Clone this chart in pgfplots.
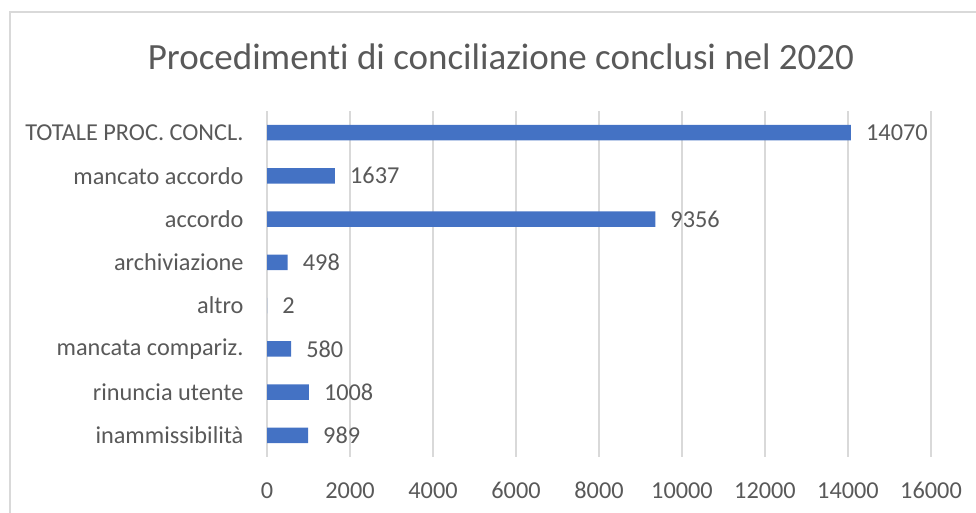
\documentclass[border=0pt]{standalone}
\usepackage{fontspec}
\setmainfont{Carlito}[Ligatures={NoCommon}]
\usepackage{pgfplots}
\pgfplotsset{compat=1.18}

\definecolor{barblue}{HTML}{4472C4}
\definecolor{txtgray}{HTML}{595959}
\definecolor{gridgray}{HTML}{D9D9D9}

\begin{document}
\begin{tikzpicture}
\path[use as bounding box] (0pt,0pt) rectangle (976pt,513pt);
% chart frame (cropped on right and bottom)
\draw[gridgray, line width=1.2pt] (10pt,0pt) -- (10pt,501pt) -- (976pt,501pt);
\node[text=txtgray, font=\fontsize{37}{44}\selectfont, anchor=base, inner sep=0pt] at (501pt,443pt) {Procedimenti di conciliazione conclusi nel 2020};
\begin{axis}[
    at={(267pt,56pt)}, anchor=south west,
    scale only axis,
    width=664pt, height=346pt,
    xbar,
    bar width=15.5pt,
    xmin=0, xmax=16000,
    ymin=-0.5, ymax=7.5,
    xtick={0,2000,...,16000},
    scaled x ticks=false,
    ytick={0,...,7},
    yticklabels={inammissibilità, rinuncia utente, mancata compariz., altro, archiviazione, accordo, mancato accordo, TOTALE PROC. CONCL.},
    /pgf/number format/assume math mode=true,
    /pgf/number format/1000 sep={},
    axis line style={draw=none},
    major tick length=0pt,
    xmajorgrids,
    grid style={gridgray, line width=1.2pt},
    ticklabel style={text=txtgray, font=\fontsize{24.3}{28}\selectfont},
    xticklabel style={anchor=north, inner sep=0pt, text height=17pt, text depth=0pt, yshift=-24pt},
    yticklabel style={xshift=-20pt},
    nodes near coords,
    nodes near coords style={text=txtgray, font=\fontsize{24.3}{28}\selectfont, anchor=west, inner sep=0pt, xshift=15pt},
    point meta=explicit symbolic,
]
\addplot[fill=barblue, draw=none] coordinates {
    (989,0) [989]
    (1008,1) [1008]
    (580,2) [580]
    (2,3) [2]
    (498,4) [498]
    (9356,5) [9356]
    (1637,6) [1637]
    (14070,7) [14070]
};
\end{axis}
\end{tikzpicture}
\end{document}
